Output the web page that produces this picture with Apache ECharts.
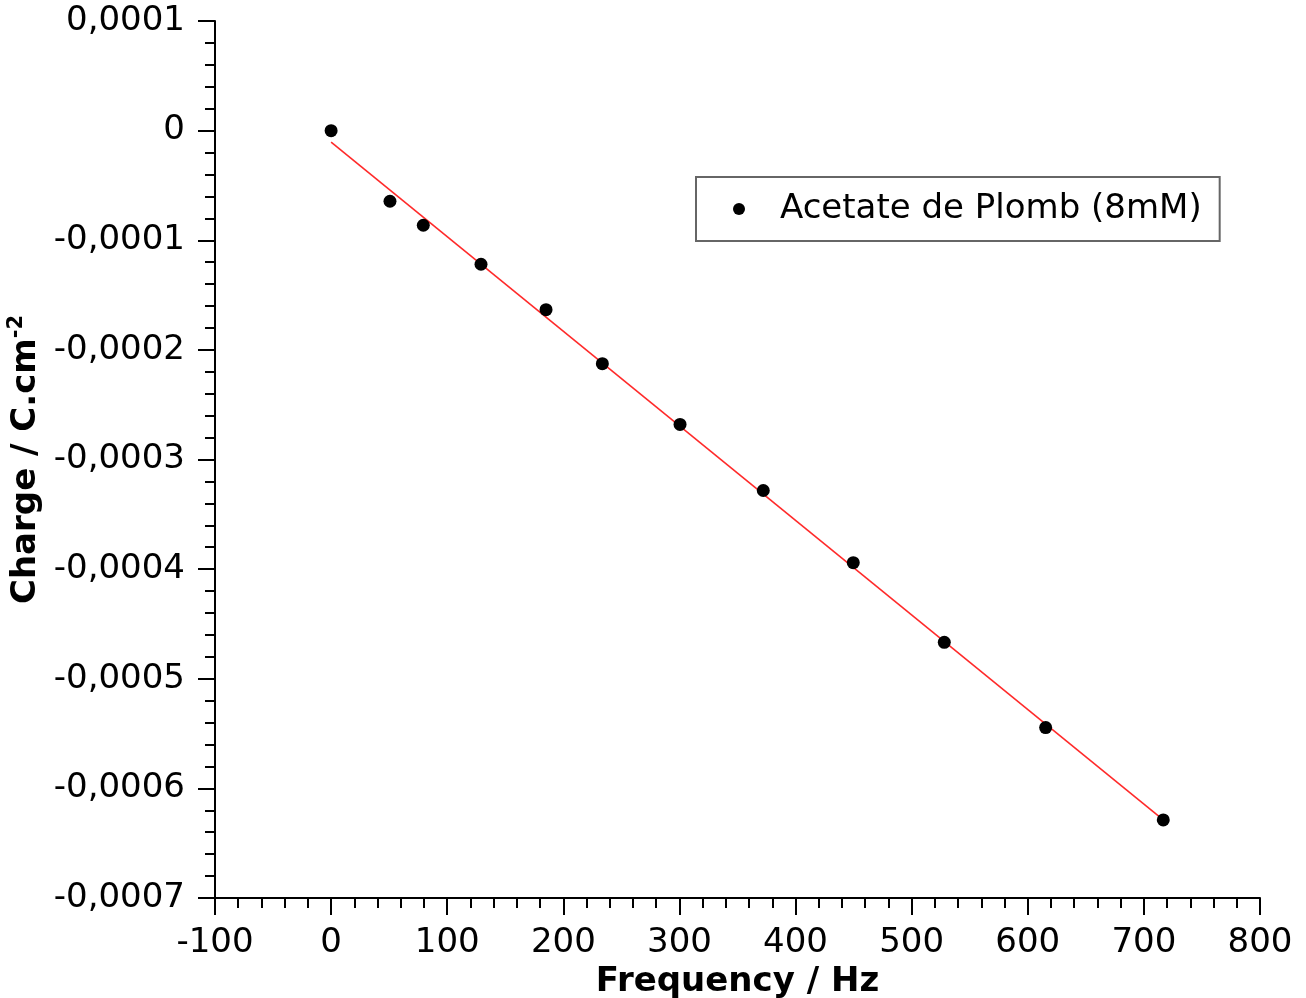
<!DOCTYPE html>
<html>
<head>
<meta charset="utf-8">
<title>Charge vs Frequency</title>
<script src="https://cdn.jsdelivr.net/npm/echarts@6/dist/echarts.min.js"></script>
<style>
  html, body { margin: 0; padding: 0; background: #fff; }
  #main { width: 1306px; height: 998px; }
</style>
</head>
<body>
<div id="main"></div>
<script>
// points
var freq = [0, 50.7, 79.4, 129.1, 185.1, 233.6, 300.5, 372.2, 449.7, 528.1, 615.4, 716.7];
var charge = [0, -0.0000644, -0.0000863, -0.0001219, -0.0001633, -0.0002126, -0.000268,
              -0.0003283, -0.0003941, -0.0004668, -0.0005445, -0.0006288];
// fitted line, two end points
var fitX = [0, 716.7];
var fitY = [-0.0000105, -0.0006288];

var seriesName = 'Acetate de Plomb (8mM)';
var font = 'DejaVu Sans';

var myChart = echarts.init(document.getElementById('main'));

function commaLabel(v) {
  if (Math.abs(v) < 1e-12) return '0';
  return v.toFixed(4).replace('.', ',');
}

var option = {
  backgroundColor: '#fff',
  animation: false,
  grid: { left: 215, right: 46, top: 21, bottom: 100, outerBoundsMode: 'none', containLabel: false },
  legend: {
    data: [seriesName],
    left: 696,
    top: 177,
    orient: 'vertical',
    icon: 'circle',
    itemWidth: 12,
    itemHeight: 12,
    padding: [15, 18, 15, 37],
    borderColor: '#666',
    borderWidth: 2,
    textStyle: { fontFamily: font, fontSize: 34, color: '#000', lineHeight: 34, padding: [0, 0, 0, 30] }
  },
  xAxis: {
    type: 'value',
    min: -100,
    max: 800,
    interval: 100,
    splitLine: { show: false },
    axisLine: { onZero: false, lineStyle: { color: '#000', width: 2 } },
    axisTick: { length: 17, lineStyle: { color: '#000', width: 2 } },
    minorTick: { show: true, splitNumber: 5, length: 10, lineStyle: { color: '#000', width: 2 } },
    axisLabel: { fontFamily: font, fontSize: 34, color: '#000', margin: 28 },
    name: 'Frequency / Hz',
    nameLocation: 'middle',
    nameGap: 66,
    nameTextStyle: { fontFamily: font, fontSize: 34, fontWeight: 'bold', color: '#000' }
  },
  yAxis: {
    type: 'value',
    min: -0.0007,
    max: 0.0001,
    interval: 0.0001,
    splitLine: { show: false },
    axisLine: { onZero: false, lineStyle: { color: '#000', width: 2 } },
    axisTick: { length: 17, lineStyle: { color: '#000', width: 2 } },
    minorTick: { show: true, splitNumber: 5, length: 10, lineStyle: { color: '#000', width: 2 } },
    axisLabel: { fontFamily: font, fontSize: 34, color: '#000', margin: 30, formatter: commaLabel },
    name: '{a|Charge / C.cm}{s|-2}',
    nameLocation: 'middle',
    nameRotate: 90,
    nameGap: 165,
    nameTextStyle: {
      rich: {
        a: { fontFamily: font, fontSize: 34, fontWeight: 'bold', color: '#000', lineHeight: 40 },
        s: { fontFamily: font, fontSize: 21, fontWeight: 'bold', color: '#000', lineHeight: 40, verticalAlign: 'top', padding: [0, 0, 16, 0] }
      }
    }
  },
  series: [{
    name: 'fit',
    type: 'line',
    data: fitX.map(function (x, i) { return [x, fitY[i]]; }),
    symbol: 'none',
    lineStyle: { color: '#ff2a2a', width: 1.6 },
    silent: true,
    z: 2
  }, {
    name: seriesName,
    type: 'scatter',
    data: freq.map(function (x, i) { return [x, charge[i]]; }),
    symbol: 'circle',
    symbolSize: 13,
    itemStyle: { color: '#000', opacity: 1 },
    z: 3
  }]
};

myChart.setOption(option);
</script>
</body>
</html>
